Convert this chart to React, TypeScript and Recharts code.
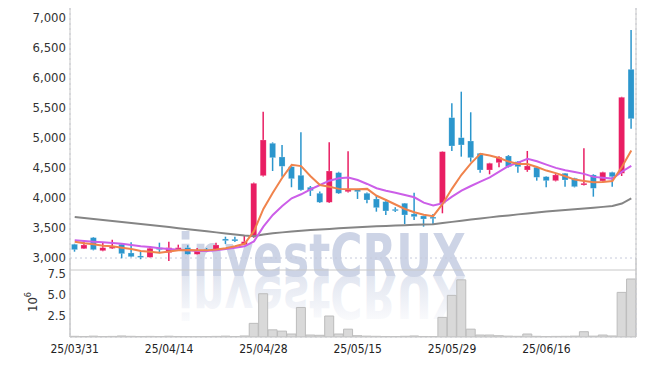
import {
  Bar,
  BarChart,
  CartesianGrid,
  ComposedChart,
  Line,
  XAxis,
  YAxis,
} from "recharts";

const dates = [
  "25/03/31", "25/04/01", "25/04/02", "25/04/03", "25/04/04", "25/04/07", "25/04/08", "25/04/09", "25/04/10", "25/04/11",
  "25/04/14", "25/04/15", "25/04/16", "25/04/17", "25/04/18", "25/04/21", "25/04/22", "25/04/23", "25/04/24", "25/04/25",
  "25/04/28", "25/04/29", "25/04/30", "25/05/02", "25/05/07", "25/05/08", "25/05/09", "25/05/12", "25/05/13", "25/05/14",
  "25/05/15", "25/05/16", "25/05/19", "25/05/20", "25/05/21", "25/05/22", "25/05/23", "25/05/26", "25/05/27", "25/05/28",
  "25/05/29", "25/05/30", "25/06/02", "25/06/04", "25/06/05", "25/06/09", "25/06/10", "25/06/11", "25/06/12", "25/06/13",
  "25/06/16", "25/06/17", "25/06/18", "25/06/19", "25/06/20", "25/06/23", "25/06/24", "25/06/25", "25/06/26", "25/06/27",
];

const opens = [
  3212, 3138, 3322, 3105, 3145, 3212, 3067, 3017, 2995, 3155,
  3072, 3133, 3155, 3045, 3125, 3112, 3300, 3295, 3205, 3350,
  4355, 4895, 4667, 4505, 4362, 4162, 4062, 3912, 4405, 4088,
  4128, 4062, 3967, 3922, 3795, 3895, 3717, 3683, 3665, 3895,
  5322, 4988, 4933, 4728, 4450, 4572, 4683, 4588, 4450, 4495,
  4338, 4272, 4395, 4312, 4200, 4367, 4267, 4412, 4395, 6128,
];
const highs = [
  3220, 3267, 3333, 3238, 3288, 3233, 3245, 3100, 3178, 3238,
  3255, 3205, 3195, 3150, 3150, 3238, 3338, 3338, 3350, 4240,
  5422, 4910, 4867, 4520, 5078, 4183, 4090, 4912, 4420, 4762,
  4135, 4075, 4033, 3967, 3830, 3900, 4072, 3690, 3717, 4760,
  5562, 5755, 5412, 4735, 4570, 4680, 4700, 4600, 4767, 4500,
  4345, 4395, 4400, 4320, 4812, 4380, 4420, 4420, 5670, 6783,
];
const lows = [
  3088, 3133, 3110, 3095, 3133, 2978, 2995, 2962, 2990, 3062,
  2933, 3125, 3040, 3040, 3080, 3105, 3217, 3250, 3200, 3320,
  4340, 4433, 4338, 4162, 4105, 4017, 3900, 3900, 4050, 4075,
  3967, 3895, 3755, 3700, 3750, 3550, 3617, 3505, 3550, 3728,
  4767, 4672, 4588, 4405, 4378, 4495, 4490, 4405, 4420, 4272,
  4162, 4260, 4172, 4160, 4190, 4005, 4255, 4172, 4350, 5138,
];
const closes = [
  3122, 3200, 3122, 3155, 3167, 3055, 3005, 2995, 3145, 3122,
  3155, 3155, 3045, 3112, 3115, 3200, 3272, 3267, 3255, 4228,
  4950, 4655, 4512, 4305, 4117, 4105, 3912, 4433, 4062, 4128,
  4088, 3950, 3822, 3767, 3783, 3700, 3672, 3633, 3662, 4755,
  4850, 4867, 4655, 4450, 4562, 4662, 4505, 4505, 4517, 4328,
  4272, 4367, 4283, 4172, 4228, 4145, 4412, 4338, 5662, 5305,
];

// moving averages
const ma5 = [
  3255, 3228, 3212, 3188, 3178, 3155, 3133, 3100, 3085, 3070,
  3090, 3110, 3118, 3112, 3110, 3125, 3145, 3180, 3220, 3430,
  3800, 4070, 4320, 4535, 4515, 4345, 4200, 4170, 4135, 4130,
  4130, 4135, 4020, 3950, 3875, 3800, 3745, 3705, 3680, 3884,
  4140, 4370, 4560, 4720, 4690, 4650, 4590, 4550, 4550, 4500,
  4440, 4397, 4345, 4290, 4268, 4247, 4250, 4265, 4500, 4775,
];
const ma10 = [
  3278, 3267, 3255, 3245, 3233, 3222, 3200, 3178, 3167, 3145,
  3133, 3122, 3112, 3100, 3100, 3112, 3133, 3155, 3178, 3260,
  3505, 3700, 3850, 3978, 4045, 4128, 4200, 4272, 4312, 4325,
  4283, 4217, 4145, 4105, 4072, 4033, 3995, 3905, 3860, 3895,
  4005, 4105, 4183, 4255, 4328, 4422, 4517, 4572, 4635, 4595,
  4540, 4485, 4445, 4415, 4385, 4335, 4322, 4306, 4421, 4520,
];
const maLong = [
  3667, 3650, 3633, 3616, 3600, 3583, 3566, 3549, 3532, 3515,
  3498, 3480, 3462, 3445, 3428, 3410, 3393, 3375, 3358, 3345,
  3375, 3395, 3410, 3425, 3437, 3448, 3458, 3468, 3478, 3488,
  3497, 3505, 3512, 3518, 3524, 3530, 3535, 3540, 3545, 3565,
  3585, 3605, 3625, 3643, 3660, 3677, 3693, 3710, 3725, 3742,
  3757, 3770, 3783, 3796, 3808, 3820, 3835, 3850, 3890, 3975,
];

// volume, millions of shares
const volumes = [
  0.08, 0.06, 0.1, 0.05, 0.07, 0.12, 0.08, 0.06, 0.07, 0.05,
  0.09, 0.06, 0.05, 0.04, 0.05, 0.07, 0.1, 0.06, 0.12, 1.6,
  5.07, 0.84, 0.69, 0.35, 3.46, 0.23, 0.2, 2.46, 0.35, 0.92,
  0.15, 0.1, 0.08, 0.06, 0.05, 0.08, 0.12, 0.06, 0.05, 2.3,
  4.88, 6.7, 0.92, 0.23, 0.23, 0.15, 0.1, 0.08, 0.35, 0.08,
  0.06, 0.07, 0.08, 0.1, 0.62, 0.1, 0.23, 0.12, 5.23, 6.8,
];

const priceTicks = [3000, 3500, 4000, 4500, 5000, 5500, 6000, 6500, 7000];
const volumeTicks = [2.5, 5, 7.5];

const RED = "#e91e63";
const BLUE = "#2b96cd";
const FONT = "'DejaVu Sans Condensed', 'Liberation Sans Narrow', Roboto, sans-serif";
const GRID = "#c6cadb";
const AXIS = "#c8c8c8";

const data = dates.map((date, i) => ({
  date,
  open: opens[i],
  high: highs[i],
  low: lows[i],
  close: closes[i],
  ma5: ma5[i],
  ma10: ma10[i],
  maLong: maLong[i],
  volume: volumes[i],
}));

function Candle(props: any) {
  const { x, y, width, height, payload } = props;
  if (x == null || y == null) return null;
  const { open, close, high, low } = payload;
  const color = close >= open ? RED : BLUE;
  const ratio = high > low ? height / (high - low) : 0;
  const top = y + (high - Math.max(open, close)) * ratio;
  const bottom = y + (high - Math.min(open, close)) * ratio;
  const cx = x + width / 2;
  return (
    <g>
      <line x1={cx} x2={cx} y1={y} y2={y + height} stroke={color} strokeWidth={1.5} />
      <rect
        x={x}
        y={top}
        width={width}
        height={Math.max(bottom - top, 1.5)}
        fill={color}
        stroke="rgba(255,255,255,0.35)"
        strokeWidth={0.6}
      />
    </g>
  );
}

const tickStyle = { fill: "#333", fontSize: 13, fontFamily: FONT };

export default function App() {
  return (
    <div style={{ position: "absolute", left: 0, top: 0, width: 645, height: 366, background: "#fff", fontFamily: FONT }}>
      {/* watermark */}
      <svg width={645} height={366} style={{ position: "absolute", left: 0, top: 0 }}>
        <defs>
          <linearGradient id="fade" x1="0" y1="0" x2="0" y2="1">
            <stop offset="0%" stopColor="#cdd4e6" stopOpacity={0} />
            <stop offset="100%" stopColor="#cdd4e6" stopOpacity={0.75} />
          </linearGradient>
        </defs>
        <text x={178} y={276} fontSize={58} fontWeight="bold" fontFamily="'DejaVu Sans', sans-serif"
          fill="#cdd4e6" textLength={288} lengthAdjust="spacingAndGlyphs">investCRUX</text>
        <g transform="translate(0,552) scale(1,-1)">
          <text x={178} y={276} fontSize={58} fontWeight="bold" fontFamily="'DejaVu Sans', sans-serif"
            fill="url(#fade)" textLength={288} lengthAdjust="spacingAndGlyphs">investCRUX</text>
        </g>
      </svg>

      {/* volume panel: plot starts a bit above the price panel's bottom so 7.5 is not at its edge */}
      <div style={{ position: "absolute", left: 0, top: 250, zIndex: 1 }}>
        <BarChart width={645} height={116} data={data} barCategoryGap={0}
          margin={{ top: 8, right: 0, bottom: 0, left: 0 }}>
          <CartesianGrid stroke={GRID} strokeDasharray="2 3" vertical={false} />
          <XAxis dataKey="date" interval={9} height={29} tickLine={false} tickSize={0} tickMargin={7}
            axisLine={{ stroke: AXIS }} tick={{ ...tickStyle, fontSize: 12, fill: "#222" }} />
          <YAxis yAxisId="v" type="number" domain={[0, 9.26]} ticks={volumeTicks} interval={0} allowDataOverflow width={70}
            tickLine={false} tickSize={4} tickMargin={0} axisLine={{ stroke: AXIS }}
            tick={tickStyle} tickFormatter={(v: number) => v.toFixed(1)} />
          <YAxis yAxisId="r" orientation="right" width={9} tick={false} tickLine={false}
            axisLine={{ stroke: AXIS }} />
          <Bar yAxisId="v" dataKey="volume" fill="#d9d9d9" stroke="#bcbcbc" strokeWidth={1} isAnimationActive={false} />
        </BarChart>
      </div>

      <div style={{ position: "absolute", left: 0, top: 0, zIndex: 2 }}>
        <ComposedChart width={645} height={337} data={data} barCategoryGap="16%"
          margin={{ top: 8, right: 0, bottom: 0, left: 0 }}>
          <CartesianGrid stroke={GRID} strokeDasharray="2 3" horizontalValues={priceTicks} />
          <YAxis yAxisId="p" domain={[1666, 7150]} ticks={priceTicks} interval={0} allowDataOverflow width={70}
            tickLine={false} tickSize={4} tickMargin={0} axisLine={{ stroke: AXIS }}
            tick={tickStyle} tickFormatter={(v: number) => v.toLocaleString("en-US")} />
          <YAxis yAxisId="r" orientation="right" width={9} tick={false} tickLine={false}
            axisLine={{ stroke: AXIS }} />
          <XAxis dataKey="date" interval={9} height={0} tick={false} tickLine={false} axisLine={false} />
          <Bar yAxisId="p" dataKey={(d: any) => [d.low, d.high]} shape={Candle} isAnimationActive={false} />
          <Line yAxisId="p" dataKey="maLong" stroke="#858585" strokeWidth={2} dot={false} type="linear" isAnimationActive={false} />
          <Line yAxisId="p" dataKey="ma10" stroke="#cc5ee8" strokeWidth={2} dot={false} type="linear" isAnimationActive={false} />
          <Line yAxisId="p" dataKey="ma5" stroke="#f0834c" strokeWidth={2} dot={false} type="linear" isAnimationActive={false} />
        </ComposedChart>
      </div>

      <svg width={645} height={366} style={{ position: "absolute", left: 0, top: 0, pointerEvents: "none", zIndex: 3 }}>
        <line x1={70} x2={636} y1={270} y2={270} stroke={AXIS} />
        <text transform="translate(37,302) rotate(-90)" textAnchor="middle" fontSize={13} fill="#333" fontFamily={FONT}>
          10<tspan dy={-6} fontSize={9}>6</tspan>
        </text>
      </svg>
    </div>
  );
}
